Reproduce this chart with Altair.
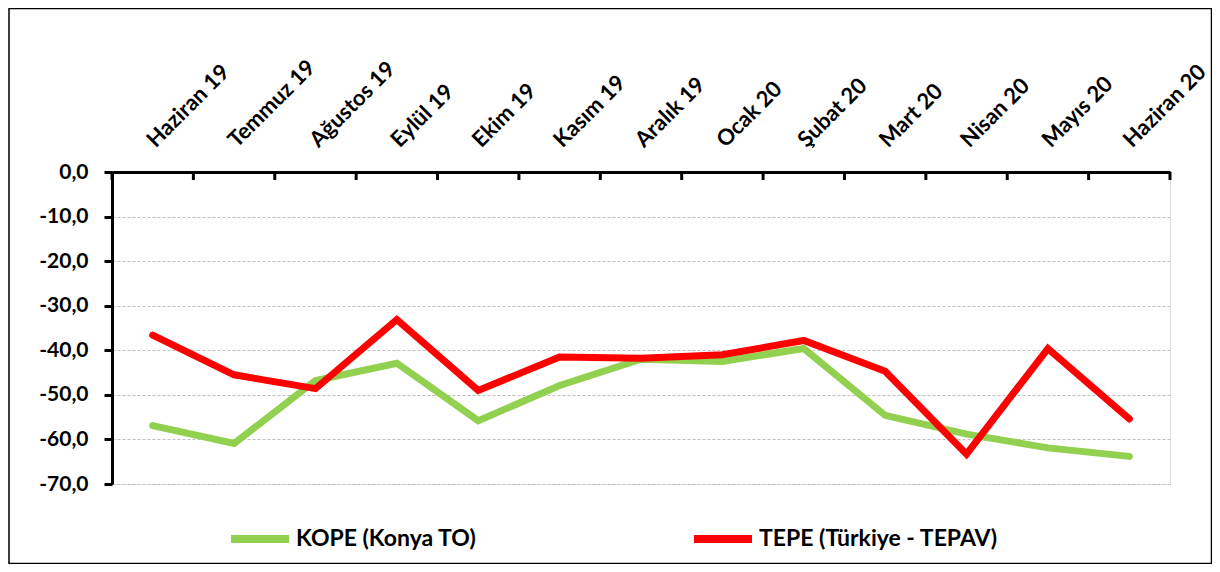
import altair as alt
import pandas as pd

months = ["Haziran 19", "Temmuz 19", "Ağustos 19", "Eylül 19", "Ekim 19", "Kasım 19",
          "Aralık 19", "Ocak 20", "Şubat 20", "Mart 20", "Nisan 20", "Mayıs 20", "Haziran 20"]
kope = [-56.9, -60.9, -46.8, -42.9, -55.8, -47.9, -42.0, -42.5, -39.6, -54.6, -58.8, -61.9, -63.8]
tepe = [-36.6, -45.5, -48.6, -33.1, -49.0, -41.5, -41.8, -41.0, -37.8, -44.7, -63.3, -39.6, -55.4]
series_names = ["KOPE (Konya TO)", "TEPE (Türkiye - TEPAV)"]
series_colors = ["#92D050", "#FF0000"]
y_ticks = [0, -10, -20, -30, -40, -50, -60, -70]

rows = []
for name, vals in zip(series_names, [kope, tepe]):
    for m, v in zip(months, vals):
        rows.append({"month": m, "value": v, "series": name})
df = pd.DataFrame(rows)
mdf = pd.DataFrame({"month": months})
last_df = pd.DataFrame({"month": [months[-1]]})

FONT = "Lato"
W, H = 1058, 312

xscale = alt.Scale(type="band", domain=months, paddingInner=0, paddingOuter=0)
xaxis = alt.Axis(orient="top", title=None, domainColor="black", domainWidth=3,
                 ticks=False, tickSize=0, labelAngle=-45, labelAlign="left",
                 labelBaseline="alphabetic", labelPadding=24, labelOffset=3, labelFontSize=22,
                 labelFontWeight="bold", labelFont=FONT, labelColor="black",
                 grid=False, labelOverlap=False, labelBound=False, labelFlush=False)

lines = alt.Chart(df).mark_line(strokeWidth=7, strokeCap="round", strokeJoin="miter").encode(
    x=alt.X("month:N", scale=xscale, bandPosition=0.5, sort=months, axis=xaxis),
    y=alt.Y("value:Q", scale=alt.Scale(domain=[-70, 0], nice=False, zero=False),
            axis=alt.Axis(title=None, values=y_ticks, domainColor="black", domainWidth=3,
                          tickColor="black", tickWidth=3, tickSize=8, labelPadding=16,
                          labelFontSize=21, labelFontWeight="bold", labelFont=FONT,
                          labelColor="black", grid=True, gridColor="#BFBFBF",
                          gridDash=[3, 2], gridWidth=1.2,
                          labelExpr="replace((datum.value < 0 ? '-' : '') + format(abs(datum.value), '.1f'), '.', ',')")),
    color=alt.Color("series:N", scale=alt.Scale(domain=series_names, range=series_colors),
                    legend=alt.Legend(title=None, orient="none", legendX=115, legendY=334,
                                      direction="horizontal", columns=2, columnPadding=201,
                                      symbolType="stroke", symbolSize=3364, symbolStrokeWidth=8,
                                      labelFontSize=23, labelFontWeight="bold", labelFont=FONT,
                                      labelColor="black", labelOffset=3, padding=0,
                                      labelLimit=400)),
    detail="series:N",
)

ticks = alt.Chart(mdf).mark_rule(color="black", strokeWidth=3).encode(
    x=alt.X("month:N", scale=xscale, bandPosition=0, sort=months),
    y=alt.value(0), y2=alt.value(8),
)
ticks_end = alt.Chart(last_df).mark_rule(color="black", strokeWidth=3).encode(
    x=alt.X("month:N", scale=xscale, bandPosition=1, sort=months),
    y=alt.value(0), y2=alt.value(8),
)

border = alt.Chart(pd.DataFrame({"a": [0]})).mark_rect(
    fillOpacity=0, stroke="black", strokeWidth=1.5).encode(
    x=alt.value(-103), x2=alt.value(1099.5), y=alt.value(-163.5), y2=alt.value(391.5)
)

chart = alt.layer(border, lines, ticks, ticks_end).properties(
    width=W, height=H,
    padding={"left": 104, "top": 164, "right": 42, "bottom": 80},
    autosize=alt.AutoSizeParams(type="none"),
).configure_view(stroke=None).configure(background="white")

chart.save("out.html", embed_options={"renderer": "svg", "actions": False})
